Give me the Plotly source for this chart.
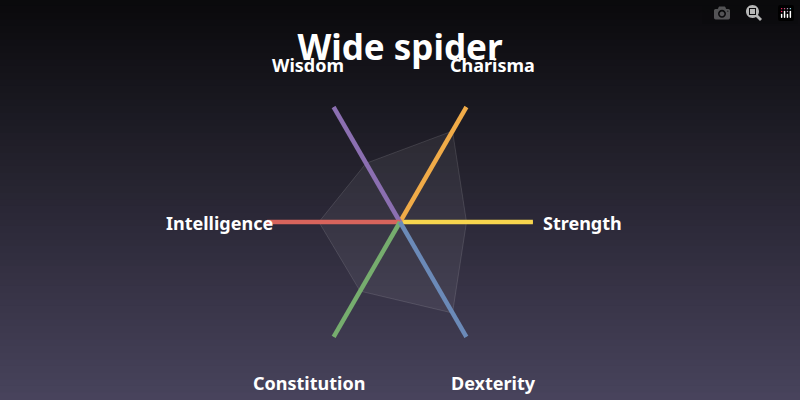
import plotly.graph_objects as go

# data
categories = ["Strength", "Charisma", "Wisdom", "Intelligence", "Constitution", "Dexterity"]
values = [50, 79, 51, 61, 60, 79]
axis_colors = ["#f7d54e", "#f0ab48", "#8b6fb1", "#d8645c", "#76ad6e", "#6b8ab8"]
angles = [0, 60, 120, 180, 240, 300]

fig = go.Figure()

# gradient background
n = 60
top, bot = (10, 10, 12), (72, 67, 92)
for i in range(n):
    t = i / (n - 1)
    c = tuple(int(top[k] + (bot[k] - top[k]) * t) for k in range(3))
    fig.add_shape(type="rect", xref="paper", yref="paper", x0=0, x1=1,
                  y0=1 - (i + 1) / n, y1=1 - i / n + 0.002,
                  fillcolor="rgb(%d,%d,%d)" % c, line_width=0, layer="below")

fig.add_trace(go.Scatterpolar(r=values + values[:1], theta=angles + angles[:1],
                              fill="toself", fillcolor="rgba(255,255,255,0.06)",
                              line=dict(color="rgba(255,255,255,0.12)", width=1),
                              mode="lines", hoverinfo="skip"))
for ang, col in zip(angles, axis_colors):
    fig.add_trace(go.Scatterpolar(r=[0, 100], theta=[ang, ang], mode="lines",
                                  line=dict(color=col, width=4.5), hoverinfo="skip"))

# labels
cx, cy, R = 400, 222, 133
label_pos = {"Strength": (541, 223, "left"), "Charisma": (492, 65, "center"),
             "Wisdom": (308, 65, "center"), "Intelligence": (275, 223, "right"),
             "Constitution": (309, 383, "center"), "Dexterity": (493, 383, "center")}
for name in categories:
    x, y, anc = label_pos[name]
    fig.add_annotation(x=x / 800, y=1 - y / 400, xref="paper", yref="paper",
                       text="<b>%s</b>" % name, showarrow=False, xanchor=anc,
                       yanchor="middle", font=dict(family="Noto Sans", size=18, color="white"))

fig.update_layout(
    width=800, height=400, margin=dict(l=0, r=0, t=0, b=0),
    paper_bgcolor="#0a0a0c", showlegend=False,
    title=dict(text="<b>Wide spider</b>", x=0.5, xanchor="center", y=1 - 48 / 400,
               yanchor="middle", font=dict(family="Noto Sans", size=35, color="white")),
    polar=dict(
        bgcolor="rgba(0,0,0,0)",
        domain=dict(x=[(cx - R) / 800, (cx + R) / 800], y=[(400 - cy - R) / 400, (400 - cy + R) / 400]),
        radialaxis=dict(range=[0, 100], visible=False),
        angularaxis=dict(visible=False, rotation=0, direction="counterclockwise"),
    ),
)
fig.write_html("out.html", post_script="document.body.style.margin='0';")
